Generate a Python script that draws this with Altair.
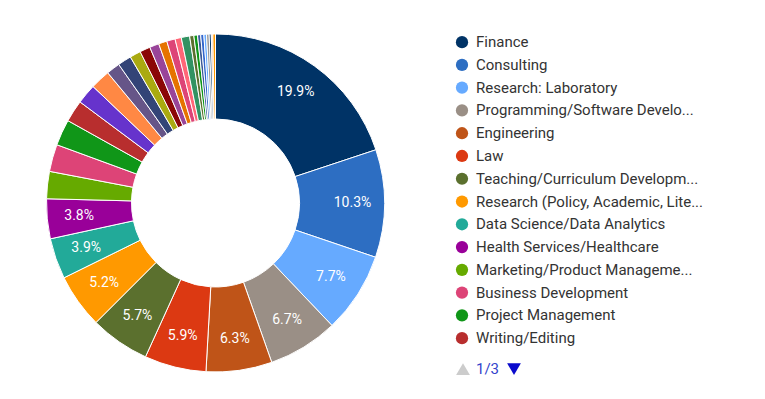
import altair as alt
import pandas as pd

# ---- data ----
names = [
    "Finance", "Consulting", "Research: Laboratory", "Programming/Software Development",
    "Engineering", "Law", "Teaching/Curriculum Development",
    "Research (Policy, Academic, Literature)", "Data Science/Data Analytics",
    "Health Services/Healthcare", "Marketing/Product Management", "Business Development",
    "Project Management", "Writing/Editing",
    "Government/Public Policy", "Nonprofit", "Communications/Public Relations",
    "Sales", "Entrepreneurship", "Arts/Design", "Journalism/Media", "Environmental/Sustainability",
    "Human Resources", "Operations", "Accounting", "Architecture", "Real Estate",
    "Social Work", "Investment Banking", "Biotechnology", "Library/Archives", "Event Planning",
    "Museum/Curatorial", "Other",
]
values = [
    19.9, 10.3, 7.7, 6.7, 6.3, 5.9, 5.7, 5.2, 3.9, 3.8,
    2.6, 2.6, 2.5, 2.1,
    1.9, 1.9, 1.3, 1.3, 1.05, 1.0, 0.9, 0.8, 0.8, 0.6, 0.8,
    0.4, 0.35, 0.3, 0.3, 0.25, 0.25, 0.2, 0.15, 0.25,
]
colors = [
    "#003366", "#2D6EC2", "#66AAFF", "#9A8F86", "#BF5418", "#DC3912", "#5B702E",
    "#FF9900", "#22AA99", "#990099", "#66AA00", "#DD4477", "#109618", "#B82E2E",
    "#6633CC", "#FF8844", "#665588", "#334477", "#AAAA11", "#8B0707", "#994499",
    "#E67300", "#DD4477", "#FF6677", "#329262", "#5B702E", "#109618", "#3B5998",
    "#3366CC", "#66AAFF", "#9A9A9A", "#003366", "#F4B183", "#FF9900",
]
# legend page 1 of 3, as displayed (truncated)
legend_labels = [
    "Finance", "Consulting", "Research: Laboratory", "Programming/Software Develo...",
    "Engineering", "Law", "Teaching/Curriculum Developm...",
    "Research (Policy, Academic, Lite...", "Data Science/Data Analytics",
    "Health Services/Healthcare", "Marketing/Product Manageme...", "Business Development",
    "Project Management", "Writing/Editing",
]
pager_text = "1/3"

total = sum(values)
df = pd.DataFrame({
    "name": names,
    "value": values,
    "idx": list(range(len(names))),
})
df["label"] = [f"{v / total * 100:.1f}%" if v / total * 100 >= 3.75 else "" for v in values]

FONT = "Roboto"

base = alt.Chart(df).encode(
    theta=alt.Theta("value:Q", stack=True),
    order=alt.Order("idx:Q", sort="ascending"),
)
arcs = base.mark_arc(innerRadius=84, outerRadius=169, stroke="white", strokeWidth=1).encode(
    color=alt.Color("name:N", scale=alt.Scale(domain=names, range=colors), legend=None),
)
labels = base.mark_text(radius=137, fill="white", fontSize=14, font=FONT).encode(
    text="label:N"
)
pie = alt.layer(arcs, labels).properties(width=415, height=370)

# ---- custom legend (first page) ----
leg = df.iloc[:len(legend_labels)].copy()
leg["row"] = leg["idx"]
leg["shown"] = legend_labels
yscale = alt.Scale(domain=[-1.06, 15.19], range=[0, 370])
legbase = alt.Chart(leg).encode(y=alt.Y("row:Q", scale=yscale, axis=None))
dots = legbase.mark_point(filled=True, size=150, opacity=1, shape="circle").encode(
    x=alt.value(19),
    color=alt.Color("name:N", scale=alt.Scale(domain=names, range=colors), legend=None),
)
texts = legbase.mark_text(align="left", baseline="middle", fontSize=15, font=FONT,
                          color="#333333").encode(
    x=alt.value(33), text="shown:N"
)
pager = pd.DataFrame({"row": [14.36], "t": [pager_text]})
pbase = alt.Chart(pager).encode(y=alt.Y("row:Q", scale=yscale, axis=None))
up = pbase.mark_point(shape="triangle-up", filled=True, size=190, opacity=1, color="#CCCCCC").encode(x=alt.value(20))
ptxt = pbase.mark_text(align="left", baseline="middle", fontSize=15, font=FONT, color="#3344CC").encode(
    x=alt.value(33), text="t:N")
down = pbase.mark_point(shape="triangle-down", filled=True, size=190, opacity=1, color="#0A0ACC").encode(x=alt.value(71))
legend = alt.layer(dots, texts, up, ptxt, down).properties(width=300, height=370)

chart = alt.hconcat(pie, legend, spacing=20).properties(
    padding={"left": 0, "top": 10, "right": 0, "bottom": 0}
).configure_view(stroke=None)

chart.save("out.html", embed_options={"renderer": "svg", "actions": False})
